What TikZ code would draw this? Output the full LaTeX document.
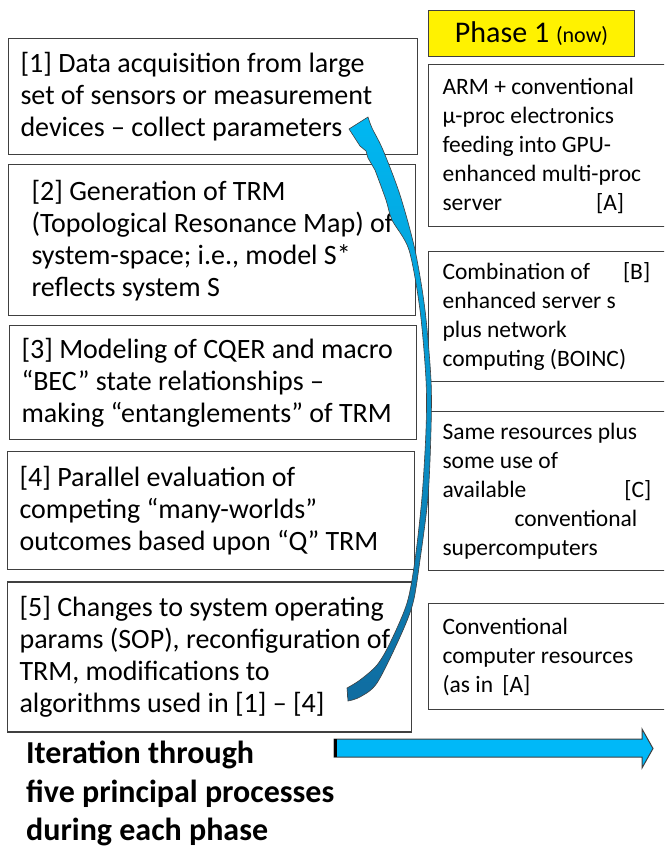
\documentclass[tikz,border=0pt]{standalone}
\usepackage{fontspec}
\setmainfont{Carlito}
\usepackage{xcolor}
\usetikzlibrary{positioning}

\definecolor{arrowtop}{RGB}{0,184,242}
\definecolor{arrowbot}{RGB}{16,108,160}
\definecolor{flowblue}{RGB}{0,184,248}
\definecolor{edgegrey}{RGB}{64,64,64}
\newcommand{\procfont}{\fontsize{28}{32}\selectfont}
\newcommand{\resfont}{\fontsize{23.5}{29}\selectfont}
\newcommand{\iterfont}{\fontsize{32}{38.5}\selectfont\bfseries}
\newcommand{\ind}{\hspace*{11pt}}

\begin{document}
\begin{tikzpicture}[x=1pt, y=-1pt,
    procbox/.style={rectangle, draw=edgegrey, line width=1.1pt, anchor=north west,
        align=flush left, inner xsep=12pt, text width=385pt, font=\procfont},
    resbox/.style={rectangle, draw=edgegrey, line width=1.1pt, anchor=north west,
        align=flush left, inner xsep=14pt, text width=240pt, font=\resfont}]
    \clip (0,0) rectangle (664,848);
    \fill[white] (0,0) rectangle (664,848);

    % five processes
    \node (acquire) [procbox, minimum height=116pt] at (8,38)
        {[1] Data acquisition from large\\set of sensors or measurement\\devices -- collect parameters};
    \node (trm) [procbox, below=9pt of acquire.south west, anchor=north west,
        text width=383pt, minimum height=151pt]
        {\ind[2] Generation of TRM\\\ind(Topological Resonance Map) of\\\ind system-space; i.e., model S*\\\ind reflects system S};
    \node (cqer) [procbox, below=9pt of trm.south west, anchor=north west, xshift=1pt,
        text width=383pt, minimum height=114pt]
        {[3] Modeling of CQER and macro\\“BEC” state relationships --\\making “entanglements” of TRM};
    \node (evaluate) [procbox, below=11pt of cqer.south west, anchor=north west, xshift=-2pt,
        text width=383pt, minimum height=118pt]
        {[4] Parallel evaluation of\\competing “many-worlds”\\outcomes based upon “Q” TRM};
    \node (changes) [procbox, below=11pt of evaluate.south west, anchor=north west,
        text width=380pt, minimum height=150pt]
        {[5] Changes to system operating\\params (SOP), reconfiguration of\\TRM, modifications to\\algorithms used in [1] -- [4]};

    % phase 1 resources
    \node (phase) [rectangle, draw=edgegrey, fill=yellow, line width=1.1pt, anchor=north west,
        minimum width=206pt, minimum height=46pt, inner sep=0pt,
        font=\fontsize{30}{34}\selectfont] at (428,10)
        {Phase 1 {\fontsize{22}{26}\selectfont(now)}};
    \node (resA) [resbox, minimum height=162pt] at (428,64)
        {ARM + conventional\\µ-proc electronics\\feeding into GPU-\\enhanced multi-proc\\server\hspace{94pt}[A]};
    \node (resB) [resbox, below=24pt of resA.south west, anchor=north west, minimum height=130pt]
        {Combination of\hspace{33pt}[B]\\enhanced server s\\plus network\\computing (BOINC)};
    \node (resC) [resbox, below=29pt of resB.south west, anchor=north west, minimum height=159pt]
        {Same resources plus\\some use of\\available\hspace{98pt}[C]\\\hspace*{72pt}conventional\\supercomputers};
    \node (resD) [resbox, below=32pt of resC.south west, anchor=north west, minimum height=106pt]
        {Conventional\\computer resources\\(as in \,[A]};

    % iteration loop arrow
    \coordinate (loopTip) at (349,129);
    \coordinate (loopTail) at (347,688);
    \shadedraw[top color=arrowtop, bottom color=arrowbot, draw=edgegrey, line width=0.6pt]
        (loopTip) -- (368,117)
        -- plot[smooth] coordinates {(368,117) (372,128) (383,150) (400,195) (415,250)
            (425,310) (431,380) (431,430) (428,497) (420,560) (413,603) (400,637)
            (377,683) (360,697) (348,701)}
        -- (loopTail)
        -- plot[smooth] coordinates {(347,688) (360,680) (377,665) (390,643) (407,603)
            (415,560) (422,497) (426,430) (426,380) (420,310) (409,250) (392,220)
            (386,200) (375,170)}
        -- (368,158) -- (366,151) -- (360,146) -- cycle;

    % caption and phase arrow
    \node (iterate) [anchor=north west, align=flush left, inner sep=0pt, font=\iterfont] at (26,741)
        {Iteration through\\five principal processes\\during each phase};
    \draw[fill=flowblue, draw=edgegrey, line width=1pt]
        (334,739) -- (642,739) -- (642,729) -- (653,748.5) -- (642,768) -- (642,757) -- (334,757) -- cycle;
    \draw[line width=3pt] (335.5,739) -- (335.5,757);
\end{tikzpicture}
\end{document}
